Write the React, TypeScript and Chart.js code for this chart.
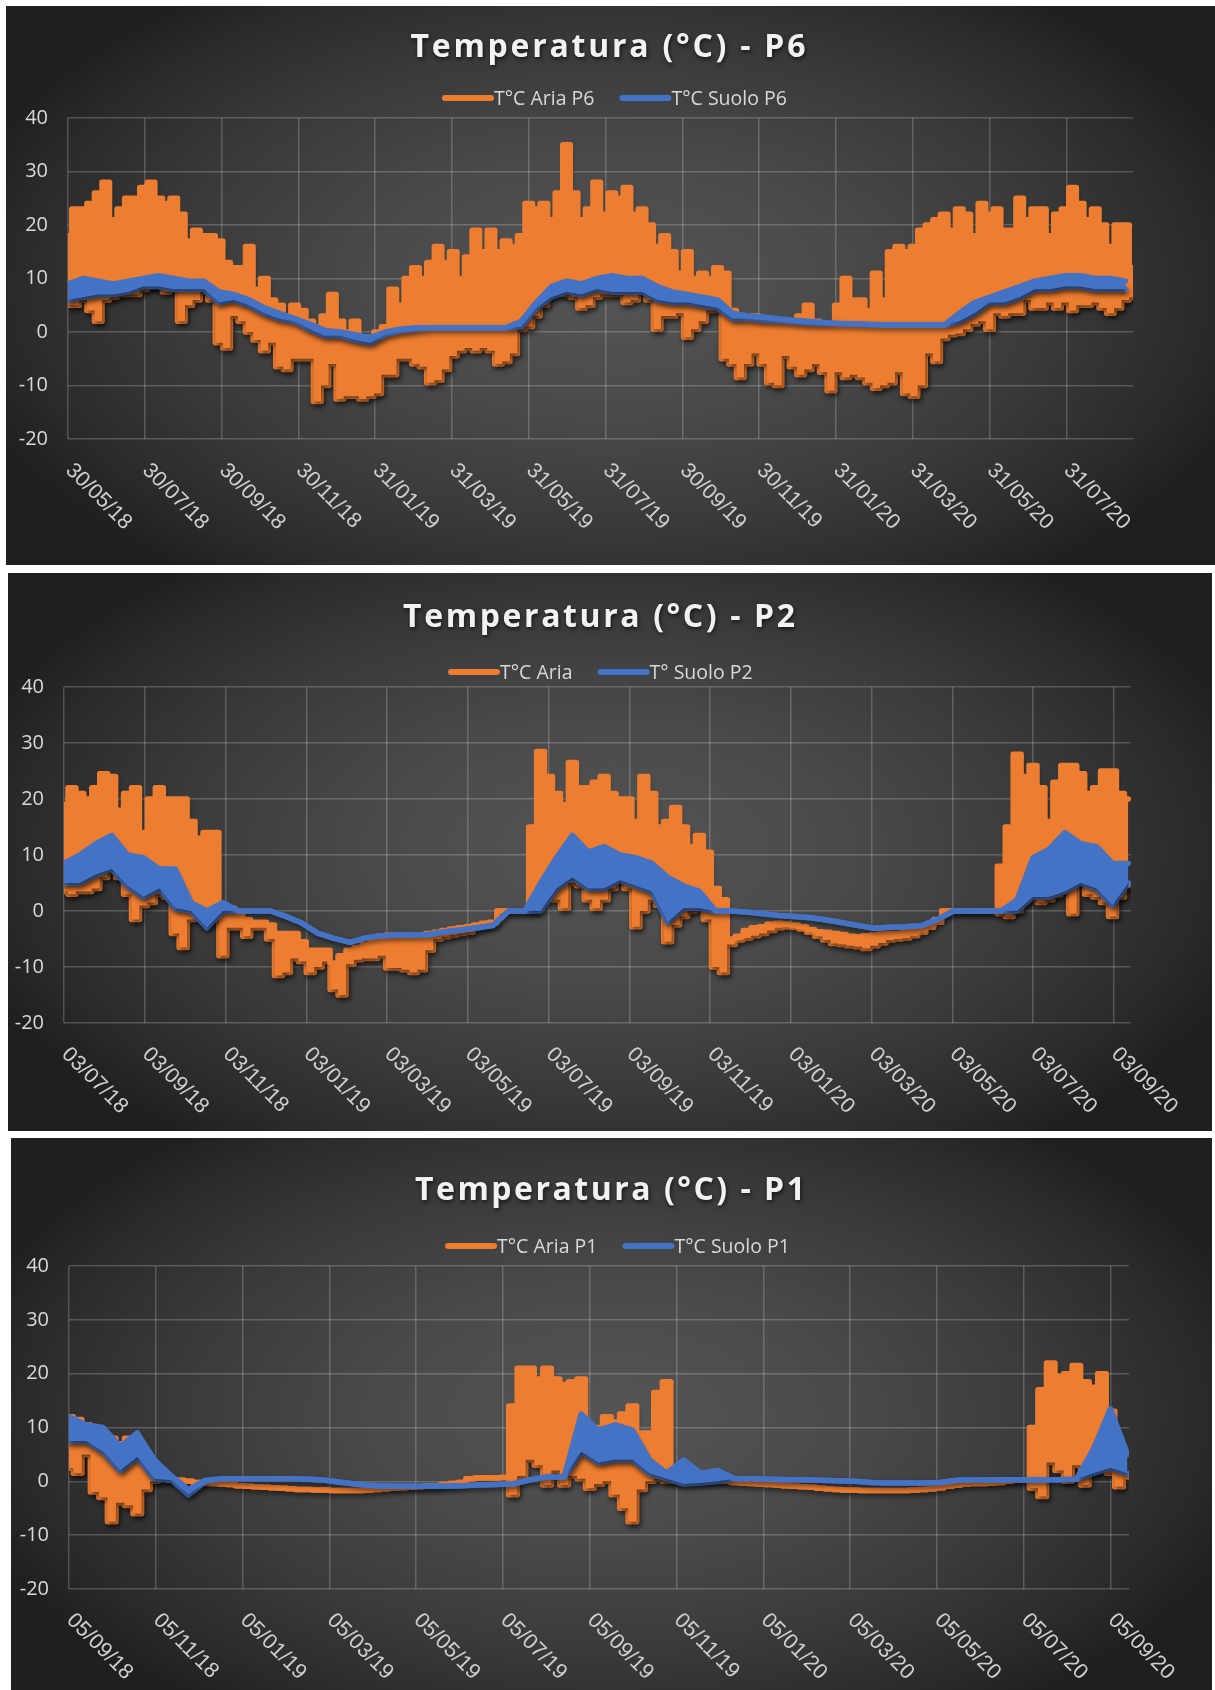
import React, { useEffect, useRef } from "react";
import { Chart, registerables } from "chart.js";

Chart.register(...registerables);

const ORANGE = "#ED7D31";
const BLUE = "#4472C4";
const AIR_STEP = 6; // days between air samples
const SOIL_STEP = 12; // days between soil samples
const TICK_STEP = 61; // days between date labels

// ---------------- P6 ----------------
const p6Title = "Temperatura (°C) - P6";
const p6AirLabel = "T°C Aria P6";
const p6SoilLabel = "T°C Suolo P6";
const p6Days = 846;
const p6TickLabels = ["30/05/18", "30/07/18", "30/09/18", "30/11/18", "31/01/19", "31/03/19", "31/05/19", "31/07/19", "30/09/19", "30/11/19", "31/01/20", "31/03/20", "31/05/20", "31/07/20"];
const p6AirHi = [
  18, 23, 23, 24, 26, 28, 21, 23, 25, 25,
  27, 28, 25, 24, 25, 22, 17, 19, 18, 18,
  17, 13, 12, 12, 16, 8, 10, 6, 5, 3,
  5, 4, 2, 1, 3, 7, 2, 0, 2, -1,
  -1, 0, 1, 8, 5, 10, 12, 10, 13, 16,
  13, 15, 10, 14, 19, 15, 19, 15, 17, 16,
  18, 24, 23, 24, 21, 26, 35, 26, 21, 23,
  28, 22, 26, 25, 27, 22, 23, 20, 16, 18,
  15, 11, 15, 10, 11, 10, 12, 11, 4, 2,
  2, 3, 2, 2, 2, 2, 1, 3, 5, 2,
  1, 1, 5, 10, 6, 6, 4, 11, 6, 15,
  16, 15, 16, 19, 20, 21, 22, 19, 23, 22,
  18, 24, 22, 23, 19, 19, 25, 21, 23, 23,
  18, 22, 23, 27, 24, 21, 23, 20, 16, 20,
  20, 12,
];
const p6AirLo = [
  5, 5, 6, 4, 2, 6, 6.5, 7, 7, 7,
  8, 8.5, 8.5, 7.5, 8, 2, 5, 6, 7.5, 6,
  -2, -3, 3, 2, 0, -1.5, -3.5, -2, -6.5, -7,
  -5, -5, -5, -13, -10, -6, -12.5, -12, -12, -12.5,
  -12, -11.5, -8, -8, -5, -5, -6, -6.5, -9.5, -9,
  -7, -4.5, -3.5, -3, -3.5, -3, -3.5, -6, -5.5, -4,
  0.5, 1, 3, 5, 7, 7.5, 7, 6.5, 4.5, 5,
  6.5, 7, 7, 7, 5.5, 6, 7.5, 6, 0.5, 3,
  3, 3.5, -1, 0.5, 2, 4, 4, -5, -6, -8.5,
  -6, -4, -6, -9.5, -10, -4.5, -6.5, -8, -7, -6,
  -7.5, -11, -7.5, -8.5, -8, -8.5, -9.5, -10.5, -10, -9.5,
  -7.5, -11.5, -12, -10, -4, -5.5, -1.2, -0.5, -0.3, 0.5,
  1.5, 2, 0.5, 3.5, 3, 3.5, 3.5, 6, 4.5, 4.5,
  5.5, 4.5, 5.5, 4, 5, 5, 5.5, 4.5, 3.5, 4.5,
  6, 6.5,
];
const p6SoilHi = [
  9, 10, 9.5, 9, 9.5, 10, 10.5, 10, 9.5, 9.5,
  7.5, 7, 6, 4.5, 3.5, 2.5, 1.5, 0.3, 0, -0.5,
  -1, 0, 0.5, 0.8, 0.8, 0.8, 0.8, 0.8, 0.8, 0.8,
  2, 5.5, 8.5, 9.5, 9, 10, 10.5, 10, 10, 8.5,
  7.5, 7, 6.5, 6, 3.5, 3, 2.8, 2.5, 2.2, 2,
  1.8, 1.6, 1.5, 1.4, 1.3, 1.3, 1.3, 1.3, 1.3, 3.5,
  5.5, 6.5, 7.5, 8.5, 9.5, 10, 10.5, 10.5, 10, 10,
  9.5,
];
const p6SoilLo = [
  6, 6.5, 7, 7, 7.5, 8.5, 8.5, 8, 8, 8,
  5.5, 6, 5, 3.5, 2.5, 2, 0.5, -0.7, -0.7, -1.5,
  -2, -0.5, 0.2, 0.5, 0.8, 0.8, 0.8, 0.8, 0.8, 0.8,
  1, 4.5, 6.5, 7.5, 7, 8, 7.5, 7.5, 7.5, 6,
  5.5, 5.5, 5, 4.5, 2.5, 2.5, 2.2, 2.1, 1.9, 1.7,
  1.6, 1.6, 1.5, 1.4, 1.3, 1.3, 1.3, 1.3, 1.3, 2,
  3.5, 5.5, 5.5, 6.5, 8, 8, 8.5, 8.5, 8, 8,
  8,
];

// ---------------- P2 ----------------
const p2Title = "Temperatura (°C) - P2";
const p2AirLabel = "T°C Aria";
const p2SoilLabel = "T° Suolo P2";
const p2Days = 806;
const p2TickLabels = ["03/07/18", "03/09/18", "03/11/18", "03/01/19", "03/03/19", "03/05/19", "03/07/19", "03/09/19", "03/11/19", "03/01/20", "03/03/20", "03/05/20", "03/07/20", "03/09/20"];
const p2AirHi = [
  19, 22, 21, 20, 22, 24.5, 24, 18, 21, 22,
  14, 20, 22, 20, 20, 20, 16, 13, 14, 14,
  0.5, 0.5, -0.5, -1.5, -2, -2, -2.5, -4, -4, -4,
  -5.5, -7, -7, -7, -9.3, -8, -7, -6.5, -6, -5,
  -4.5, -4.3, -4.3, -4.3, -4.3, -4.3, -4, -3.8, -3.5, -3.2,
  -3, -2.8, -2.5, -2.2, -2, 0, 0, 0, 0, 15,
  28.5, 24, 21, 19, 26.5, 22, 22, 23, 24, 21,
  20, 20, 16, 24, 21, 15, 16, 18.5, 15, 11.5,
  13.5, 10.5, 4, 2, -5, -4.5, -3.5, -3, -2.8, -2.3,
  -2.2, -2.3, -2.5, -2.8, -3.3, -3.7, -3.8, -4, -4.2, -4.5,
  -4.6, -4.4, -4.3, -4.1, -4, -4, -3.8, -3.7, -3.2, -2.6,
  -2, 0, 0, 0, 0, 0, 0, 0, 8, 15,
  28, 24, 26, 22, 16, 23, 26, 26, 24.5, 21,
  22, 25, 25, 21, 20,
];
const p2AirLo = [
  3.5, 3, 3.5, 3.5, 4, 6, 7, 6, 3, -1.5,
  1, 1.5, 3, 2.5, -4, -6.5, -1.5, -1, -2, -1.5,
  -8, -3, -3, -4.5, -3, -3, -5, -11.5, -11, -8.5,
  -9, -11, -10, -9, -14, -15, -9.5, -8.7, -8.5, -8.5,
  -8, -10.2, -10.2, -10.5, -11, -10.5, -7, -5, -4.6, -4.3,
  -4, -3.8, -3, -2.7, -2.2, 0, 0, 0, 0, 0,
  4, 4, 2, 0.5, 5, 4.5, 2, 0.5, 2, 4,
  5.5, 4, -2.8, 0, 2, 1, -5.5, -2.5, -1, 0,
  0.8, -1.5, -10, -11, -6, -5.2, -4.8, -4.4, -4, -3.5,
  -3, -2.8, -2.9, -3.2, -3.8, -4.5, -5.2, -5.8, -6, -6.2,
  -6.4, -6.7, -6.2, -5.7, -5.2, -5, -4.8, -4.4, -3.8, -2.9,
  -1.5, 0, 0, 0, 0, 0, 0, 0, -0.5, -1,
  0, 2, 2.5, 1.5, 2, 2.8, 3.5, -0.5, 5, 3,
  2.5, 1.5, -1, 2.5, 4.5,
];
const p2SoilHi = [
  8.5, 10, 12, 13.5, 10, 9.5, 7.5, 7.5, 1.5, 0,
  1.5, 0, 0, 0, -1, -2.2, -4, -4.9, -5.6, -4.8,
  -4.4, -4.3, -4.3, -4.2, -3.7, -3.4, -3, -2.6, 0, 0,
  5, 9.5, 13.5, 10.5, 11.5, 10, 9.5, 8.5, 6, 4.5,
  3.5, 0, 0, -0.2, -0.5, -0.8, -1, -1.2, -1.6, -2.1,
  -2.6, -3.1, -2.9, -2.8, -2.6, -1.5, 0, 0, 0, 0,
  2, 9.5, 11, 14, 12, 11.5, 8.5, 8.5,
];
const p2SoilLo = [
  5, 5, 6.5, 7.5, 4.5, 2.5, 4, 0.5, 0, -3,
  0, 0, 0, 0, -1, -2.2, -4, -4.9, -5.6, -4.8,
  -4.4, -4.3, -4.3, -4.2, -3.7, -3.4, -3, -2.6, 0, 0,
  0, 4, 6, 4, 4, 5.5, 4.5, 3.5, -2, 0.5,
  0.5, 0, 0, -0.2, -0.5, -0.8, -1, -1.2, -1.6, -2.1,
  -2.6, -3.1, -2.9, -2.8, -2.6, -1.5, 0, 0, 0, 0,
  0, 2.5, 2.5, 3.5, 5, 4, 1, 5,
];

// ---------------- P1 ----------------
const p1Title = "Temperatura (°C) - P1";
const p1AirLabel = "T°C Aria P1";
const p1SoilLabel = "T°C Suolo P1";
const p1Days = 745;
const p1TickLabels = ["05/09/18", "05/11/18", "05/01/19", "05/03/19", "05/05/19", "05/07/19", "05/09/19", "05/11/19", "05/01/20", "05/03/20", "05/05/20", "05/07/20", "05/09/20"];
const p1AirHi = [
  12, 11.5, 10.5, 10, 9, 8, 7, 8, 7, 5,
  1.5, 0.5, 0.3, 0.2, 0, -0.2, -0.3, -0.4, -0.5, -0.6,
  -0.8, -0.9, -1, -1.1, -1.2, -1.3, -1.4, -1.5, -1.5, -1.6,
  -1.6, -1.7, -1.7, -1.7, -1.7, -1.6, -1.5, -1.4, -1.3, -1.2,
  -1.1, -1, -0.9, -0.8, -0.6, -0.4, -0.2, 0.5, 0.6, 0.6,
  0.6, 0.7, 14, 21, 21, 19, 21, 19, 18, 18.5,
  19, 8, 10, 12, 11, 12.5, 14, 9, 9, 16.5,
  18.5, 1, 0.5, 0.3, 0.3, 0.2, 0.2, 0, -0.2, -0.3,
  -0.4, -0.5, -0.6, -0.7, -0.8, -0.9, -1, -1.1, -1.3, -1.4,
  -1.5, -1.6, -1.6, -1.7, -1.7, -1.7, -1.7, -1.7, -1.7, -1.6,
  -1.5, -1.4, -1.2, -0.9, -0.7, -0.5, -0.4, -0.4, -0.3, -0.2,
  0, 0.2, 0.3, 10, 17, 22, 19.5, 20, 21.5, 18.5,
  17.5, 20, 13, 1, 1,
];
const p1AirLo = [
  2.5, 1.5, 5, -2, -3, -7.5, -4, -4.5, -6, -1.5,
  0, 0.5, 0.3, 0.2, 0, -0.2, -0.3, -0.4, -0.5, -0.6,
  -0.8, -0.9, -1, -1.1, -1.2, -1.3, -1.4, -1.5, -1.5, -1.6,
  -1.6, -1.7, -1.7, -1.7, -1.7, -1.6, -1.5, -1.4, -1.3, -1.2,
  -1.1, -1, -0.9, -0.8, -0.6, -0.4, -0.2, 0.5, 0.6, 0.6,
  0.6, 0.7, -2.5, 1, 4, 3, -0.7, 2, -0.7, 1,
  0.5, -1.3, -0.5, 0, -2.5, -5, -7.5, -1.5, 0, 0.5,
  0, 0, 0.5, 0.3, 0.3, 0.2, 0.2, 0, -0.2, -0.3,
  -0.4, -0.5, -0.6, -0.7, -0.8, -0.9, -1, -1.1, -1.3, -1.4,
  -1.5, -1.6, -1.6, -1.7, -1.7, -1.7, -1.7, -1.7, -1.7, -1.6,
  -1.5, -1.4, -1.2, -0.9, -0.7, -0.5, -0.4, -0.4, -0.3, -0.2,
  0, 0.2, 0.3, -1.3, -2.8, 3.5, 2, 0, 3, -0.7,
  1.8, 4, 1.5, -1, 0.8,
];
const p1SoilHi = [
  12, 10.5, 10, 6.5, 9, 4, 1, -1.5, 0.2, 0.5,
  0.5, 0.5, 0.5, 0.5, 0.4, 0.2, -0.2, -0.6, -0.8, -0.9,
  -0.9, -0.9, -0.9, -0.8, -0.7, -0.6, -0.5, 0.3, 0.8, 0.8,
  12.5, 9.5, 10.5, 9.5, 4, 1.5, 4, 1.5, 2, 0.5,
  0.5, 0.4, 0.3, 0.3, 0.2, 0.1, 0, -0.2, -0.3, -0.3,
  -0.3, -0.2, 0.2, 0.3, 0.3, 0.3, 0.3, 0.3, 0.3, 0.4,
  6, 13.5, 5,
];
const p1SoilLo = [
  7.5, 7.5, 5.5, 2, 4.5, 0.5, 0.2, -2.5, 0, 0.5,
  0.5, 0.5, 0.5, 0.5, 0.4, 0.2, -0.2, -0.6, -0.8, -0.9,
  -0.9, -0.9, -0.9, -0.8, -0.7, -0.6, -0.5, 0.3, 0.8, 0.8,
  5.5, 3.5, 4, 4, 1.5, 0.5, -0.5, -0.3, 0, 0.5,
  0.5, 0.4, 0.3, 0.3, 0.2, 0.1, 0, -0.2, -0.3, -0.3,
  -0.3, -0.2, 0.2, 0.3, 0.3, 0.3, 0.3, 0.3, 0.3, 0.4,
  1.5, 2.5, 1.5,
];

// ---------------- layout (pixels) ----------------
const LAYOUTS = [
  { left: 6, top: 6, width: 1209, height: 559, pad: { left: 62, top: 112, right: 82, bottom: 126 }, titleX: 602, titleY: 51, titleW: 395, legendX: 436, legendY: 92 },
  { left: 8, top: 573, width: 1204, height: 558, pad: { left: 56, top: 114, right: 81, bottom: 108 }, titleX: 591, titleY: 54, titleW: 392, legendX: 440, legendY: 99 },
  { left: 11, top: 1138, width: 1201, height: 552, pad: { left: 58, top: 128, right: 83, bottom: 101 }, titleX: 599, titleY: 62, titleW: 390, legendX: 434, legendY: 108 },
];

const PANELS = [
  { title: p6Title, airLabel: p6AirLabel, soilLabel: p6SoilLabel, days: p6Days, ticks: p6TickLabels, airHi: p6AirHi, airLo: p6AirLo, soilHi: p6SoilHi, soilLo: p6SoilLo },
  { title: p2Title, airLabel: p2AirLabel, soilLabel: p2SoilLabel, days: p2Days, ticks: p2TickLabels, airHi: p2AirHi, airLo: p2AirLo, soilHi: p2SoilHi, soilLo: p2SoilLo },
  { title: p1Title, airLabel: p1AirLabel, soilLabel: p1SoilLabel, days: p1Days, ticks: p1TickLabels, airHi: p1AirHi, airLo: p1AirLo, soilHi: p1SoilHi, soilLo: p1SoilLo },
];

const GRID = "rgba(255,255,255,0.2)";
const TEXT = "#d9d9d9";

function toPoints(vals: number[], step: number, maxX: number) {
  return vals.map((y, i) => ({ x: Math.min(i * step, maxX), y }));
}

function setShadow(ctx: CanvasRenderingContext2D) {
  ctx.shadowColor = "rgba(0,0,0,0.55)";
  ctx.shadowBlur = 5;
  ctx.shadowOffsetX = 1.5;
  ctx.shadowOffsetY = 3;
}
function clearShadow(ctx: CanvasRenderingContext2D) {
  ctx.shadowColor = "rgba(0,0,0,0)";
  ctx.shadowBlur = 0;
  ctx.shadowOffsetX = 0;
  ctx.shadowOffsetY = 0;
}

function Panel({ data, layout }: { data: any; layout: any }) {
  const ref = useRef<HTMLCanvasElement | null>(null);

  useEffect(() => {
    const canvas = ref.current;
    if (!canvas) return;
    const pad = layout.pad;

    const decor = {
      id: "decor",
      beforeDatasetsDraw(chart: any) {
        chart.ctx.save();
        setShadow(chart.ctx);
      },
      beforeDatasetDraw(chart: any, args: any) {
        if (args.index === 1 || args.index === 3) clearShadow(chart.ctx);
      },
      afterDatasetDraw(chart: any) {
        setShadow(chart.ctx);
      },
      afterDatasetsDraw(chart: any) {
        chart.ctx.restore();
      },
      afterDraw(chart: any) {
        const ctx: CanvasRenderingContext2D = chart.ctx;
        const area = chart.chartArea;
        const xs = chart.scales.x;

        // x tick labels, rotated 45deg clockwise
        ctx.save();
        ctx.fillStyle = "#cfcfcf";
        ctx.font = "21.5px 'Liberation Sans', Arial, sans-serif";
        ctx.textAlign = "left";
        ctx.textBaseline = "middle";
        data.ticks.forEach((lab: string, i: number) => {
          const px = xs.getPixelForValue(i * TICK_STEP);
          ctx.save();
          ctx.translate(px + 1, area.bottom + 28);
          ctx.rotate(Math.PI / 4);
          ctx.fillText(lab, 0, 0);
          ctx.restore();
        });
        ctx.restore();

        // title (letter-spaced, shadowed)
        ctx.save();
        ctx.font = "bold 32px 'Open Sans', sans-serif";
        ctx.fillStyle = "#f2f2f2";
        ctx.textBaseline = "alphabetic";
        ctx.textAlign = "left";
        ctx.shadowColor = "rgba(0,0,0,0.65)";
        ctx.shadowBlur = 4;
        ctx.shadowOffsetX = 1;
        ctx.shadowOffsetY = 2;
        const chars = Array.from(data.title as string);
        const widths = chars.map((c) => ctx.measureText(c).width);
        const raw = widths.reduce((a, b) => a + b, 0);
        const ls = (layout.titleW - raw) / (chars.length - 1);
        let tx = layout.titleX - layout.titleW / 2;
        chars.forEach((c, i) => {
          ctx.fillText(c, tx, layout.titleY);
          tx += widths[i] + ls;
        });
        ctx.restore();

        // legend
        ctx.save();
        ctx.font = "19.5px 'Open Sans', sans-serif";
        ctx.textBaseline = "middle";
        ctx.textAlign = "left";
        let lx = layout.legendX;
        const ly = layout.legendY;
        const items = [
          { label: data.airLabel, color: ORANGE },
          { label: data.soilLabel, color: BLUE },
        ];
        items.forEach((it) => {
          ctx.strokeStyle = it.color;
          ctx.lineWidth = 6;
          ctx.lineCap = "round";
          ctx.beginPath();
          ctx.moveTo(lx + 3, ly);
          ctx.lineTo(lx + 49, ly);
          ctx.stroke();
          ctx.fillStyle = TEXT;
          ctx.fillText(it.label, lx + 52, ly + 1);
          lx += 52 + ctx.measureText(it.label).width + 25;
        });
        ctx.restore();
      },
    };

    const chart = new Chart(canvas, {
      type: "line",
      data: {
        datasets: [
          { label: data.airLabel + " min", data: toPoints(data.airLo, AIR_STEP, data.days), borderColor: ORANGE, backgroundColor: ORANGE, fill: false, order: 3, stepped: "middle" },
          { label: data.airLabel, data: toPoints(data.airHi, AIR_STEP, data.days), borderColor: ORANGE, backgroundColor: ORANGE, fill: "-1", order: 2, stepped: "middle" },
          { label: data.soilLabel + " min", data: toPoints(data.soilLo, SOIL_STEP, data.days), borderColor: BLUE, backgroundColor: BLUE, fill: false, order: 1 },
          { label: data.soilLabel, data: toPoints(data.soilHi, SOIL_STEP, data.days), borderColor: BLUE, backgroundColor: BLUE, fill: "-1", order: 0 },
        ],
      } as any,
      options: {
        responsive: false,
        maintainAspectRatio: false,
        animation: false,
        devicePixelRatio: 1,
        events: [],
        layout: { padding: { left: 0, top: pad.top, right: pad.right, bottom: 0 } },
        elements: {
          point: { radius: 0, hoverRadius: 0 },
          line: { borderWidth: 5.5, borderJoinStyle: "round", borderCapStyle: "round", tension: 0 },
        },
        plugins: {
          legend: { display: false },
          title: { display: false },
          tooltip: { enabled: false },
        },
        scales: {
          x: {
            type: "linear",
            min: 0,
            max: data.days,
            afterBuildTicks: (s: any) => {
              s.ticks = data.ticks.map((_: string, i: number) => ({ value: i * TICK_STEP }));
            },
            afterFit: (s: any) => {
              s.height = pad.bottom;
            },
            ticks: { display: false },
            grid: { color: GRID, lineWidth: 1.5, drawTicks: false },
            border: { display: false },
          },
          y: {
            min: -20,
            max: 40,
            afterFit: (s: any) => {
              s.width = pad.left;
            },
            ticks: { stepSize: 10, color: TEXT, padding: 20, font: { family: "'Open Sans', sans-serif", size: 20 } },
            grid: { color: GRID, lineWidth: 1.5, drawTicks: false },
            border: { display: false },
          },
        },
      } as any,
      plugins: [decor],
    });
    return () => chart.destroy();
  }, [data, layout]);

  return (
    <div
      style={{
        position: "absolute",
        left: layout.left,
        top: layout.top,
        width: layout.width,
        height: layout.height,
        background:
          "radial-gradient(ellipse 56% 66% at 50% 50%, #555555 0%, #4a4a4a 35%, #3a3a3a 65%, #2a2a2a 88%, #1f1f1f 100%)",
      }}
    >
      <canvas ref={ref} width={layout.width} height={layout.height} style={{ display: "block", width: layout.width, height: layout.height }} />
    </div>
  );
}

export default function App() {
  return (
    <div style={{ position: "absolute", left: 0, top: 0, width: 1215, height: 1690, background: "#ffffff", overflow: "hidden" }}>
      {PANELS.map((p, i) => (
        <Panel key={i} data={p} layout={LAYOUTS[i]} />
      ))}
    </div>
  );
}
